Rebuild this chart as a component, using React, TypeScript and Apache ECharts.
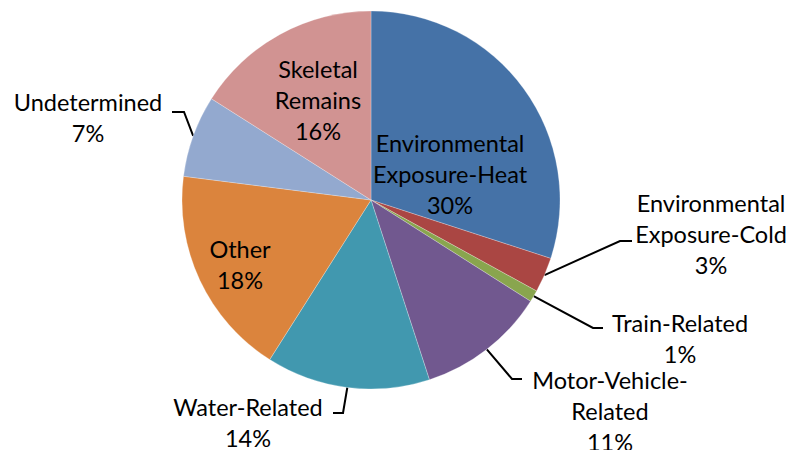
import React, { useEffect, useRef } from "react";
import * as echarts from "echarts";

const categories = [
  "Environmental Exposure-Heat",
  "Environmental Exposure-Cold",
  "Train-Related",
  "Motor-Vehicle-Related",
  "Water-Related",
  "Other",
  "Undetermined",
  "Skeletal Remains",
];
const values = [30, 3, 1, 11, 14, 18, 7, 16];
const colors = ["#4572A7", "#AA4643", "#89A54E", "#71588F", "#4198AF", "#DB843D", "#93A9CF", "#D19392"];

// label layout: text-block centre and optional leader-line elbow / end
type LabelPlace = { cx: number; cy: number; inside: boolean; elbow?: number[]; end?: number[] };
const labelPlaces: LabelPlace[] = [
  { cx: 450, cy: 174, inside: true },
  { cx: 711, cy: 234, inside: false, elbow: [620, 241], end: [632, 241] },
  { cx: 680, cy: 338, inside: false, elbow: [593, 328], end: [603, 328] },
  { cx: 610, cy: 411, inside: false, elbow: [512, 379], end: [522, 379] },
  { cx: 248, cy: 422, inside: false, elbow: [343, 413], end: [333, 413] },
  { cx: 240, cy: 264, inside: true },
  { cx: 88, cy: 117, inside: false, elbow: [184, 112], end: [172, 112] },
  { cx: 318, cy: 100, inside: true },
];

function wrapName(name: string): string {
  return name
    .replace("Environmental ", "Environmental\n")
    .replace("Skeletal ", "Skeletal\n")
    .replace("Motor-Vehicle-", "Motor-Vehicle-\n");
}

export default function App() {
  const ref = useRef<HTMLDivElement>(null);
  useEffect(() => {
    if (!ref.current) return;
    const chart = echarts.init(ref.current, undefined, { renderer: "svg" });
    chart.setOption({
      animation: false,
      backgroundColor: "#ffffff",
      series: [
        {
          type: "pie",
          center: [371, 200],
          radius: 189,
          startAngle: 90,
          clockwise: true,
          avoidLabelOverlap: false,
          itemStyle: { borderColor: "rgba(255,255,255,0.5)", borderWidth: 0.5 },
          label: {
            show: true,
            color: "#000",
            fontFamily: "Lato, 'Open Sans', sans-serif",
            fontSize: 23.5,
            lineHeight: 31,
            align: "center",
            formatter: (p: any) => wrapName(p.name) + "\n" + Math.round(p.percent) + "%",
          },
          labelLine: { show: true, lineStyle: { color: "#000", width: 2 }, length: 20, length2: 10 },
          labelLayout: (params: any) => {
            const pl = labelPlaces[params.dataIndex];
            const res: any = { x: pl.cx, y: pl.cy, align: "center", verticalAlign: "middle" };
            if (!pl.inside && params.labelLinePoints) {
              const start = params.labelLinePoints[0];
              res.labelLinePoints = [start, pl.elbow, pl.end];
            }
            return res;
          },
          data: categories.map((c, i) => ({
            name: c,
            value: values[i],
            itemStyle: { color: colors[i] },
            label: { position: labelPlaces[i].inside ? "inside" : "outside" },
            labelLine: { show: !labelPlaces[i].inside },
          })),
        },
      ],
    });
    return () => chart.dispose();
  }, []);
  return (
    <div
      ref={ref}
      style={{ position: "fixed", left: 0, top: 0, width: 796, height: 450, background: "#fff" }}
    />
  );
}
